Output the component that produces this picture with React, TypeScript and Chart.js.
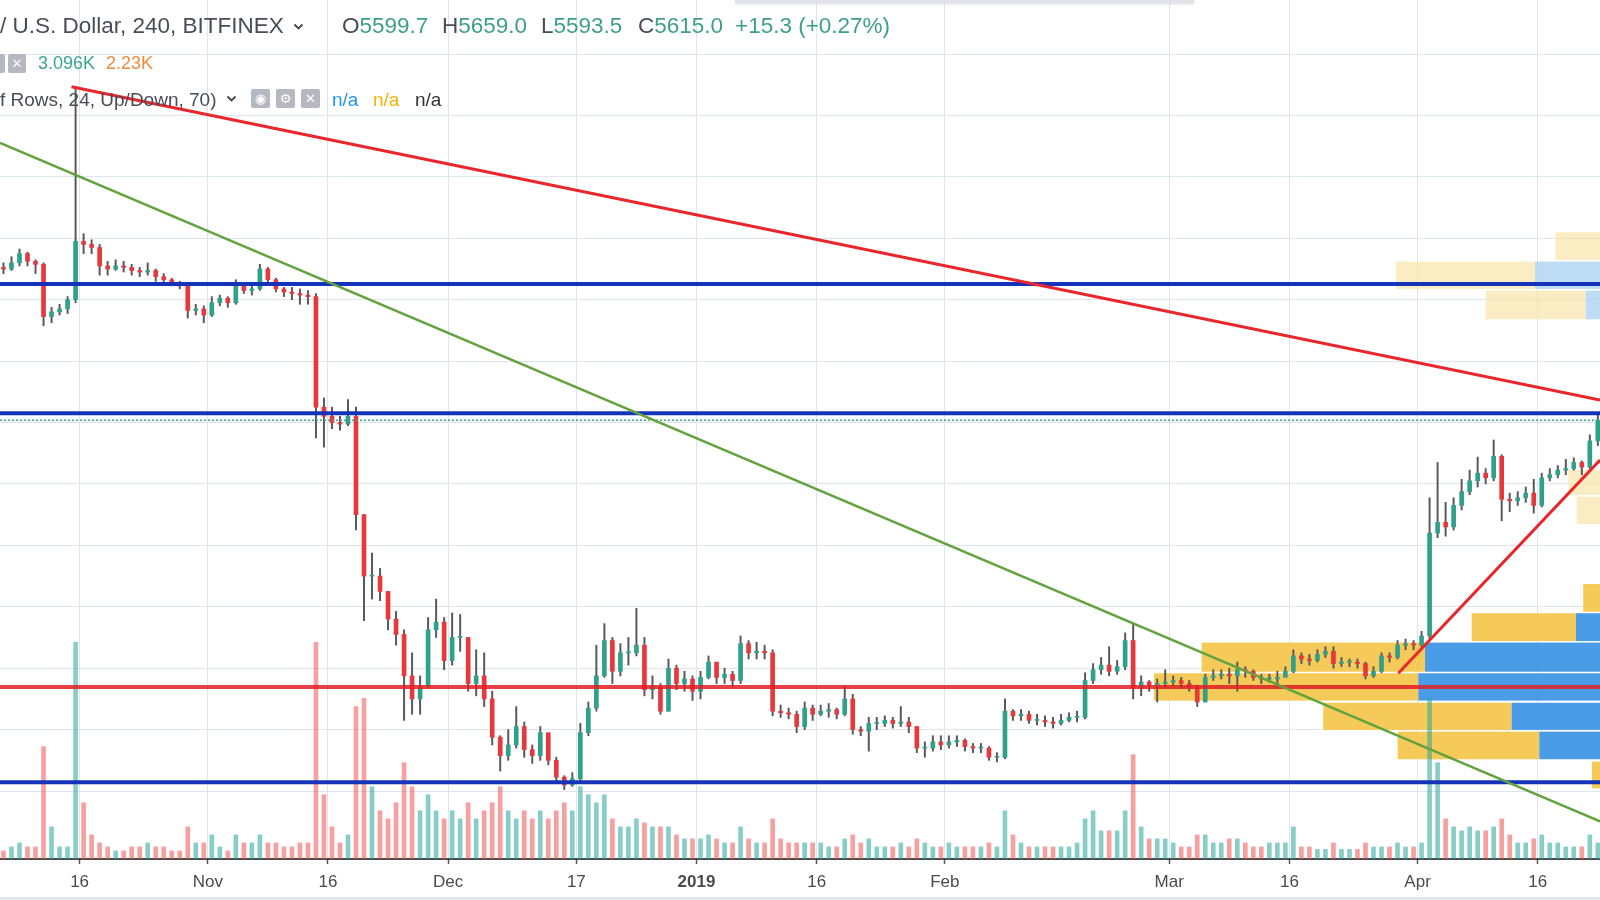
import React, { useEffect, useRef } from "react";
import { Chart, registerables } from "chart.js";

Chart.register(...registerables);

// ---- time axis: days counted from 2018-10-01 (day 0) ----
const FIRST_DAY = 5; // 2018-10-06
const FIRST_OPEN = 6610;

// daily close / high / low (BTC/USD, Bitfinex), Oct 6 2018 .. Apr 23 2019
const closes = [
  6600, 6640, 6700, 6650, 6630, 6290, 6320, 6340, 6400, 6780,
  6760, 6740, 6620, 6600, 6620, 6610, 6590, 6580, 6590, 6550,
  6530, 6510, 6490, 6330, 6340, 6300, 6380, 6410, 6380, 6500,
  6460, 6470, 6600, 6530, 6470, 6450, 6440, 6430, 6420, 5700,
  5640, 5600, 5590, 5640, 5000, 4600, 4600, 4500, 4320, 4220,
  3950, 3800, 3880, 4250, 4300, 4050, 4200, 4200, 3900, 3950,
  3800, 3550, 3430, 3500, 3620, 3470, 3430, 3580, 3400, 3290,
  3240, 3280, 3580, 3740, 3950, 4180, 3980, 4100, 4100, 4150,
  3860, 3880, 3720, 4000, 3900, 3930, 3850, 3940, 4040, 3940,
  3960, 3920, 4160, 4100, 4110, 4100, 3720, 3710, 3700, 3620,
  3740, 3700, 3720, 3730, 3700, 3800, 3600, 3590, 3640, 3640,
  3660, 3640, 3650, 3620, 3480, 3480, 3520, 3500, 3520, 3530,
  3490, 3480, 3480, 3420, 3420, 3720, 3690, 3700, 3660, 3660,
  3650, 3640, 3660, 3680, 3680, 3920, 3990, 4020, 3980, 4010,
  4180, 3870, 3910, 3890, 3900, 3910, 3920, 3900, 3880, 3780,
  3940, 3950, 3960, 3950, 3990, 3980, 3940, 3930, 3930, 3940,
  3980, 4080, 4060, 4050, 4090, 4110, 4030, 4040, 4040, 4030,
  3950, 3980, 4080, 4070, 4150, 4160, 4150, 4210, 4880, 4950,
  4920, 5060, 5150, 5220, 5270, 5240, 5380, 5100, 5090, 5110,
  5140, 5060, 5240, 5260, 5290, 5300, 5340, 5310, 5480, 5615,
];
const highs = [
  6640, 6680, 6730, 6710, 6660, 6640, 6350, 6370, 6420, 7790,
  6830, 6790, 6760, 6650, 6660, 6650, 6630, 6610, 6640, 6600,
  6570, 6540, 6520, 6500, 6370, 6360, 6420, 6430, 6420, 6530,
  6510, 6500, 6630, 6610, 6540, 6480, 6480, 6470, 6460, 6440,
  5760, 5700, 5640, 5750, 5700, 5000, 4750, 4650, 4500, 4370,
  4250, 4100, 3950, 4330, 4450, 4330, 4360, 4350, 4200, 4120,
  4100, 3850, 3560, 3600, 3750, 3650, 3500, 3620, 3560, 3420,
  3300, 3320, 3640, 3780, 4150, 4290, 4200, 4160, 4200, 4390,
  4200, 3950, 3900, 4060, 4020, 3980, 3950, 3980, 4080, 4030,
  4000, 3980, 4210, 4180, 4170, 4150, 4120, 3760, 3740, 3720,
  3780, 3760, 3760, 3770, 3740, 3880, 3830, 3620, 3680, 3680,
  3690, 3680, 3750, 3680, 3620, 3520, 3560, 3560, 3560, 3560,
  3540, 3510, 3510, 3490, 3450, 3800, 3730, 3730, 3720, 3700,
  3690, 3680, 3700, 3710, 3720, 3970, 4030, 4070, 4140, 4050,
  4230, 4290, 3950, 3920, 3930, 3990, 3950, 3940, 3920, 3890,
  3960, 3990, 3990, 4000, 4040, 4010, 3990, 3960, 3960, 3980,
  4010, 4120, 4100, 4090, 4120, 4140, 4140, 4070, 4060, 4060,
  4040, 4010, 4100, 4100, 4180, 4190, 4180, 4240, 5110, 5340,
  5080, 5110, 5230, 5290, 5375, 5300, 5486, 5390, 5140, 5150,
  5180, 5230, 5270, 5300, 5320, 5360, 5370, 5350, 5520, 5659,
];
const lows = [
  6570, 6590, 6620, 6620, 6570, 6230, 6250, 6300, 6310, 6380,
  6700, 6700, 6560, 6560, 6590, 6580, 6560, 6550, 6560, 6520,
  6510, 6490, 6470, 6280, 6300, 6250, 6290, 6360, 6350, 6370,
  6440, 6430, 6460, 6510, 6450, 6420, 6400, 6370, 6370, 5500,
  5440, 5560, 5550, 5580, 4900, 4310, 4450, 4440, 4250, 4150,
  3660, 3700, 3700, 3870, 4200, 3990, 4020, 4110, 3850, 3820,
  3750, 3500, 3330, 3400, 3480, 3420, 3380, 3400, 3370, 3250,
  3210, 3230, 3260, 3560, 3720, 3940, 3900, 3950, 4020, 4080,
  3820, 3800, 3700, 3720, 3860, 3850, 3790, 3800, 3930, 3900,
  3900, 3880, 3900, 4060, 4060, 4060, 3690, 3680, 3670, 3580,
  3600, 3660, 3690, 3680, 3670, 3690, 3570, 3560, 3460, 3600,
  3620, 3610, 3620, 3580, 3450, 3420, 3460, 3470, 3480, 3490,
  3460, 3450, 3450, 3400, 3390, 3410, 3660, 3660, 3640, 3630,
  3620, 3610, 3630, 3650, 3650, 3670, 3900, 3960, 3950, 3960,
  3990, 3800, 3820, 3850, 3780, 3870, 3890, 3870, 3850, 3750,
  3780, 3920, 3930, 3900, 3850, 3940, 3920, 3900, 3910, 3900,
  3950, 3970, 4030, 4020, 4040, 4070, 4000, 4010, 4010, 4000,
  3930, 3940, 3970, 4040, 4060, 4120, 4120, 4140, 4190, 4850,
  4860, 4900, 5030, 5130, 5180, 5200, 5220, 4960, 5020, 5060,
  5080, 5010, 5050, 5220, 5240, 5260, 5290, 5260, 5300, 5450,
];
// daily volume (relative units)
const volumes = [
  1, 1.5, 2, 1.5, 1.5, 14, 4, 1.5, 1.5, 27,
  7, 3, 2, 1.5, 1, 1, 1.5, 1.5, 2, 1.5,
  1.5, 1, 1, 4, 2, 2, 3, 1.5, 1, 3,
  2, 2, 3, 2, 2, 1.5, 1.5, 2, 2, 27,
  8, 4, 2, 3, 19, 20, 9, 6, 5, 7,
  12, 9, 6, 8, 6, 5, 6, 5, 7, 5,
  6, 7, 9, 6, 5, 6, 5, 6, 5, 6,
  7, 6, 9, 8, 7, 8, 5, 4, 4, 5,
  4.5, 4, 4, 4, 3, 2.5, 2.5, 2.5, 3, 2.5,
  2, 2, 4, 2.5, 2, 2, 5, 2.5, 2, 2,
  2, 2, 2, 1.5, 1.5, 2.5, 3, 2, 2.5, 1.5,
  1.5, 1.5, 2, 1.5, 2.5, 2, 1.5, 1.5, 2, 1.5,
  1.5, 1.5, 1.5, 2, 1.5, 6, 3, 2, 1.5, 1.5,
  1.5, 1.5, 1.5, 1.5, 2, 5, 6, 3.5, 3.5, 3.5,
  6, 13, 4, 2.5, 2.5, 2.5, 2, 1.5, 1.5, 3,
  3, 2, 2, 2.5, 2.5, 2, 1.5, 1.5, 2, 2,
  2, 4, 1.5, 1.5, 1.2, 1.2, 2, 1.2, 1.2, 1.2,
  2, 1.5, 1.5, 1.5, 2, 1.5, 1.5, 2, 20, 12,
  5, 4, 3.5, 4, 3.5, 3.5, 4, 5, 3, 2,
  2, 2.5, 3, 2, 2, 1.5, 1.5, 1.5, 3, 2,
];

// x-axis ticks
const tickDays = [15, 31, 46, 61, 77, 92, 107, 123, 151, 166, 182, 197];
const tickLabels = ["16", "Nov", "16", "Dec", "17", "2019", "16", "Feb", "Mar", "16", "Apr", "16"];
const priceGrid = [3200, 3600, 4000, 4400, 4800, 5200, 5600, 6000, 6400, 6800, 7200, 7600, 8000];

const X_MIN = 5.065;
const X_MAX = 204.77;
const Y_MIN = 2757.4;
const Y_MAX = 8351.7;
const VOL_MAX = 107;

// drawings
const redTrendX = [13.98, 204.77];
const redTrendY = [7787, 5747];
const greenTrendX = [5.065, 204.77];
const greenTrendY = [7421, 3002];
const redUpX = [179.6, 204.77];
const redUpY = [3967, 5356];
const blueLevels = [6502, 5660, 3257];
const redLevel = 3878;
const lastPrice = 5615;

// volume profile rows: price top, price bottom, yellow start day, blue start day, light
const profHi = [4548, 4358, 4167, 3967, 3775, 3587, 3392, 6839, 6648, 6459, 5291, 5117];
const profLo = [4368, 4177, 3977, 3789, 3598, 3407, 3218, 6658, 6470, 6272, 5128, 4939];
const profYellowFrom = [202.68, 188.75, 155.05, 149.1, 170.23, 179.52, 203.76, 199.2, 179.3, 190.5, 200.8, 201.85];
const profBlueFrom = [204.77, 201.77, 182.93, 182.09, 193.74, 197.19, 204.77, 204.77, 196.66, 202.98, 204.77, 204.77];
const profLight = [false, false, false, false, false, false, false, true, true, true, true, true];

const UP = "#2fa08a";
const DOWN = "#e8383b";
const WICK = "#575757";
const VUP = "rgba(38,166,154,0.55)";
const VDOWN = "rgba(239,83,80,0.55)";
const GRID = "#dde6ee";
const FONT = '"Liberation Sans", Arial, sans-serif';

const profilePlugin = {
  id: "volumeProfile",
  beforeDatasetsDraw(chart: any) {
    const { ctx, chartArea, scales } = chart;
    const x = scales.x;
    const y = scales.y;
    ctx.save();
    ctx.beginPath();
    ctx.rect(chartArea.left, chartArea.top, chartArea.right - chartArea.left, chartArea.bottom - chartArea.top);
    ctx.clip();
    for (let i = 0; i < profHi.length; i++) {
      const top = y.getPixelForValue(profHi[i]);
      const bot = y.getPixelForValue(profLo[i]);
      const xa = x.getPixelForValue(profYellowFrom[i]);
      const xb = x.getPixelForValue(profBlueFrom[i]);
      const xr = chartArea.right;
      ctx.fillStyle = profLight[i] ? "rgba(249,226,158,0.62)" : "rgba(245,196,70,0.9)";
      ctx.fillRect(xa, top, xb - xa, bot - top);
      if (xb < xr) {
        ctx.fillStyle = profLight[i] ? "rgba(170,208,242,0.75)" : "rgba(60,148,228,0.92)";
        ctx.fillRect(xb, top, xr - xb, bot - top);
      }
    }
    ctx.restore();
  },
};

function line(xs: number[], ys: number[]) {
  return xs.map((v, i) => ({ x: v, y: ys[i] }));
}

export default function App() {
  const ref = useRef<HTMLCanvasElement>(null);

  useEffect(() => {
    const canvas = ref.current;
    if (!canvas) return;
    const bodies: any[] = [];
    const wicks: any[] = [];
    const vols: any[] = [];
    const bodyColors: string[] = [];
    const volColors: string[] = [];
    for (let i = 0; i < closes.length; i++) {
      const d = FIRST_DAY + i + 0.5;
      const o = i === 0 ? FIRST_OPEN : closes[i - 1];
      const c = closes[i];
      const up = c >= o;
      bodies.push({ x: d, y: [o, c] });
      wicks.push({ x: d, y: [lows[i], highs[i]] });
      vols.push({ x: d, y: volumes[i] });
      bodyColors.push(up ? UP : DOWN);
      volColors.push(up ? VUP : VDOWN);
    }

    const lineDs = (data: any[], color: string, width: number, order: number, dash?: number[]) => ({
      type: "line",
      data,
      borderColor: color,
      borderWidth: width,
      borderDash: dash || [],
      pointRadius: 0,
      tension: 0,
      fill: false,
      xAxisID: "x",
      yAxisID: "y",
      order,
    });

    const chart = new Chart(canvas, {
      type: "bar",
      data: {
        datasets: [
          lineDs(line(redTrendX, redTrendY), "#e8262b", 3, 0),
          lineDs(line(greenTrendX, greenTrendY), "#62a33f", 2.5, 0),
          lineDs(line(redUpX, redUpY), "#e8262b", 3, 0),
          ...blueLevels.map((v) => lineDs(line([X_MIN, X_MAX], [v, v]), "#1433b8", 4, 1)),
          lineDs(line([X_MIN, X_MAX], [redLevel, redLevel]), "rgba(226,30,36,0.85)", 4, 1),
          lineDs(line([X_MIN, X_MAX], [lastPrice, lastPrice]), "#3ba38e", 1.5, 2, [2, 2]),
          {
            type: "bar",
            data: bodies,
            backgroundColor: bodyColors,
            barThickness: 4,
            minBarLength: 1,
            grouped: false,
            xAxisID: "x",
            yAxisID: "y",
            order: 3,
          },
          {
            type: "bar",
            data: wicks,
            backgroundColor: WICK,
            barThickness: 1.3,
            grouped: false,
            xAxisID: "x",
            yAxisID: "y",
            order: 4,
          },
          {
            type: "bar",
            data: vols,
            backgroundColor: volColors,
            barThickness: 4,
            grouped: false,
            xAxisID: "x",
            yAxisID: "yv",
            order: 5,
          },
        ] as any,
      },
      options: {
        responsive: false,
        maintainAspectRatio: false,
        animation: false,
        events: [],
        layout: { padding: 0 },
        plugins: { legend: { display: false }, tooltip: { enabled: false } },
        scales: {
          x: {
            type: "linear",
            min: X_MIN,
            max: X_MAX,
            offset: false,
            afterBuildTicks: (s: any) => {
              s.ticks = tickDays.map((v) => ({ value: v }));
            },
            afterFit: (s: any) => {
              s.height = 41;
            },
            grid: { color: GRID, offset: false, drawTicks: true, tickLength: 5, tickColor: "#555", tickWidth: 1.5 },
            border: { display: true, color: "#4a4a4a", width: 2 },
            ticks: {
              autoSkip: false,
              maxRotation: 0,
              padding: 8,
              color: "#4a4a4a",
              font: (c: any) => ({
                family: FONT,
                size: 17,
                weight: c.tick && c.tick.value === 92 ? "bold" : "normal",
              }),
              callback: (v: any) => {
                const i = tickDays.indexOf(Number(v));
                return i >= 0 ? tickLabels[i] : "";
              },
            },
          },
          y: {
            type: "linear",
            position: "right",
            min: Y_MIN,
            max: Y_MAX,
            afterBuildTicks: (s: any) => {
              s.ticks = priceGrid.map((v) => ({ value: v }));
            },
            afterFit: (s: any) => {
              s.width = 0;
            },
            ticks: { display: false },
            grid: { color: GRID, drawTicks: false },
            border: { display: false },
          },
          yv: {
            type: "linear",
            display: false,
            min: 0,
            max: VOL_MAX,
          },
        },
      } as any,
      plugins: [profilePlugin],
    });
    return () => chart.destroy();
  }, []);

  const teal = "#3d9f8b";
  const dark = "#4a4d57";
  const box = (left: number, top: number, glyph: string, w = 19) => (
    <div
      style={{
        position: "absolute",
        left,
        top,
        width: w,
        height: 19,
        background: "#b5b8c1",
        borderRadius: 2,
        color: "#fff",
        fontSize: 13,
        lineHeight: "19px",
        textAlign: "center",
        fontFamily: '"DejaVu Sans", sans-serif',
      }}
    >
      {glyph}
    </div>
  );
  const chevron = (left: number, top: number) => (
    <svg style={{ position: "absolute", left, top }} width="11" height="8" viewBox="0 0 11 8">
      <polyline points="1.5,1.5 5.5,5.5 9.5,1.5" fill="none" stroke="#444" strokeWidth="1.8" />
    </svg>
  );

  return (
    <div
      style={{
        position: "fixed",
        left: 0,
        top: 0,
        width: 1600,
        height: 900,
        background: "#fff",
        overflow: "hidden",
        fontFamily: FONT,
      }}
    >
      <canvas ref={ref} width={1600} height={900} style={{ position: "absolute", left: 0, top: 0 }} />
      <div style={{ position: "absolute", left: 735, top: 0, width: 459, height: 3, background: "#dfe2e8", boxShadow: "0 1px 3px rgba(0,0,0,0.15)" }} />
      <div style={{ position: "absolute", left: 0, top: 897, width: 1600, height: 3, background: "#e4e6ec" }} />

      {/* legend line 1 */}
      <div style={{ position: "absolute", left: 0, top: 15, fontSize: 22.5, lineHeight: "22px", color: dark, whiteSpace: "nowrap" }}>
        / U.S. Dollar, 240, BITFINEX
      </div>
      {chevron(293, 23)}
      {[
        ["O", "5599.7", 342],
        ["H", "5659.0", 442],
        ["L", "5593.5", 541],
        ["C", "5615.0", 638],
      ].map(([k, v, l]) => (
        <div key={String(k)} style={{ position: "absolute", left: l as number, top: 15, fontSize: 22.5, lineHeight: "22px", whiteSpace: "nowrap" }}>
          <span style={{ color: dark }}>{k}</span>
          <span style={{ color: teal }}>{v}</span>
        </div>
      ))}
      <div style={{ position: "absolute", left: 735, top: 15, fontSize: 22.5, lineHeight: "22px", color: teal, whiteSpace: "nowrap" }}>
        +15.3 (+0.27%)
      </div>

      {/* legend line 2 */}
      {box(-14, 54, "")}
      {box(8, 54, "✕", 18)}
      <div style={{ position: "absolute", left: 38, top: 54, fontSize: 18, lineHeight: "18px", color: "#3aa58f", whiteSpace: "nowrap" }}>3.096K</div>
      <div style={{ position: "absolute", left: 106, top: 54, fontSize: 18, lineHeight: "18px", color: "#f08a3c", whiteSpace: "nowrap" }}>2.23K</div>

      {/* legend line 3 */}
      <div style={{ position: "absolute", left: 0, top: 90, fontSize: 19, lineHeight: "19px", color: dark, whiteSpace: "nowrap" }}>
        f Rows, 24, Up/Down, 70)
      </div>
      {chevron(226, 95)}
      {box(251, 89, "◉")}
      {box(276, 89, "⚙")}
      {box(301, 89, "✕")}
      <div style={{ position: "absolute", left: 332, top: 90, fontSize: 19, lineHeight: "19px", color: "#2196f3" }}>n/a</div>
      <div style={{ position: "absolute", left: 373, top: 90, fontSize: 19, lineHeight: "19px", color: "#f5b400" }}>n/a</div>
      <div style={{ position: "absolute", left: 415, top: 90, fontSize: 19, lineHeight: "19px", color: "#333" }}>n/a</div>
    </div>
  );
}
